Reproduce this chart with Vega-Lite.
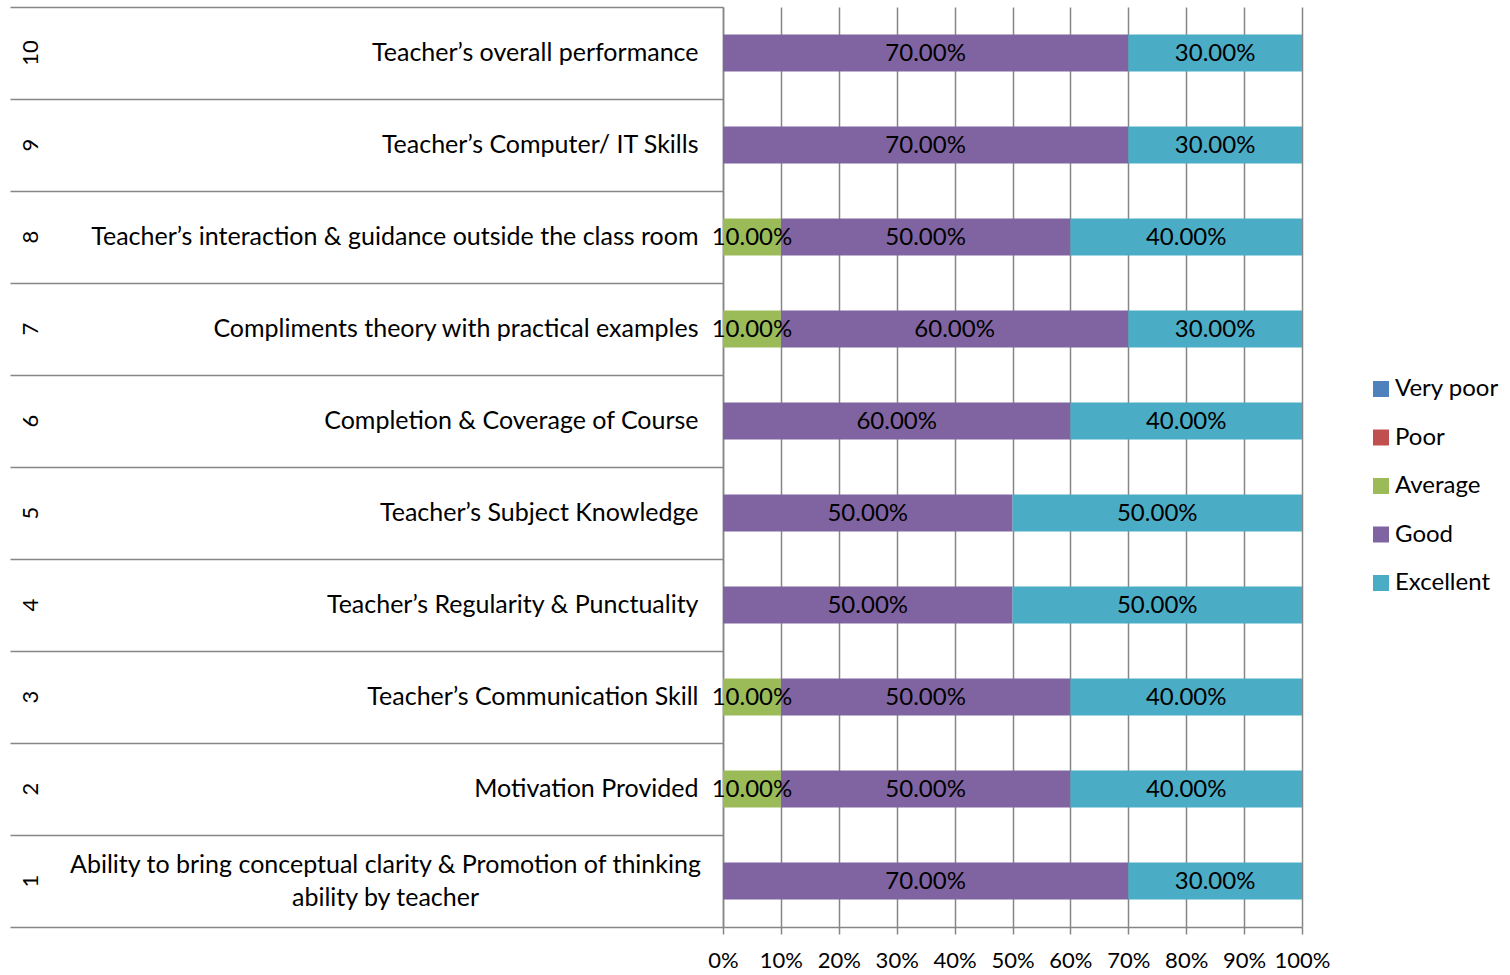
{
  "$schema": "https://vega.github.io/schema/vega-lite/v6.json",
  "width": 579,
  "height": 920,
  "autosize": {"type": "none"},
  "padding": {"left": 723, "top": 7, "right": 208, "bottom": 48},
  "background": "white",
  "config": {
    "font": "Lato",
    "view": {"stroke": null},
    "text": {"font": "Lato"}
  },
  "data": {
    "values": [
      {"num": 10, "row": "10|Teacher’s overall performance", "rating": "Good", "level": 4, "share": 0.7},
      {"num": 10, "row": "10|Teacher’s overall performance", "rating": "Excellent", "level": 5, "share": 0.3},
      {"num": 9, "row": "9|Teacher’s Computer/ IT Skills", "rating": "Good", "level": 4, "share": 0.7},
      {"num": 9, "row": "9|Teacher’s Computer/ IT Skills", "rating": "Excellent", "level": 5, "share": 0.3},
      {"num": 8, "row": "8|Teacher’s interaction & guidance outside the class room", "rating": "Average", "level": 3, "share": 0.1},
      {"num": 8, "row": "8|Teacher’s interaction & guidance outside the class room", "rating": "Good", "level": 4, "share": 0.5},
      {"num": 8, "row": "8|Teacher’s interaction & guidance outside the class room", "rating": "Excellent", "level": 5, "share": 0.4},
      {"num": 7, "row": "7|Compliments theory with practical examples", "rating": "Average", "level": 3, "share": 0.1},
      {"num": 7, "row": "7|Compliments theory with practical examples", "rating": "Good", "level": 4, "share": 0.6},
      {"num": 7, "row": "7|Compliments theory with practical examples", "rating": "Excellent", "level": 5, "share": 0.3},
      {"num": 6, "row": "6|Completion & Coverage of Course", "rating": "Good", "level": 4, "share": 0.6},
      {"num": 6, "row": "6|Completion & Coverage of Course", "rating": "Excellent", "level": 5, "share": 0.4},
      {"num": 5, "row": "5|Teacher’s Subject Knowledge", "rating": "Good", "level": 4, "share": 0.5},
      {"num": 5, "row": "5|Teacher’s Subject Knowledge", "rating": "Excellent", "level": 5, "share": 0.5},
      {"num": 4, "row": "4|Teacher’s Regularity & Punctuality", "rating": "Good", "level": 4, "share": 0.5},
      {"num": 4, "row": "4|Teacher’s Regularity & Punctuality", "rating": "Excellent", "level": 5, "share": 0.5},
      {"num": 3, "row": "3|Teacher’s Communication Skill", "rating": "Average", "level": 3, "share": 0.1},
      {"num": 3, "row": "3|Teacher’s Communication Skill", "rating": "Good", "level": 4, "share": 0.5},
      {"num": 3, "row": "3|Teacher’s Communication Skill", "rating": "Excellent", "level": 5, "share": 0.4},
      {"num": 2, "row": "2|Motivation Provided", "rating": "Average", "level": 3, "share": 0.1},
      {"num": 2, "row": "2|Motivation Provided", "rating": "Good", "level": 4, "share": 0.5},
      {"num": 2, "row": "2|Motivation Provided", "rating": "Excellent", "level": 5, "share": 0.4},
      {"num": 1, "row": "1|Ability to bring conceptual clarity & Promotion of thinking|ability by teacher", "rating": "Good", "level": 4, "share": 0.7},
      {"num": 1, "row": "1|Ability to bring conceptual clarity & Promotion of thinking|ability by teacher", "rating": "Excellent", "level": 5, "share": 0.3}
    ]
  },
  "transform": [
    {"stack": "share", "groupby": ["num"], "sort": [{"field": "level", "order": "ascending"}], "as": ["s0", "s1"]},
    {"calculate": "(datum.s0 + datum.s1) / 2", "as": "mid"}
  ],
  "encoding": {
    "y": {
      "field": "row", "type": "nominal",
      "sort": {"field": "num", "op": "max", "order": "descending"},
      "scale": {"paddingInner": 0, "paddingOuter": 0},
      "title": null
    }
  },
  "layer": [
    {
      "mark": {"type": "bar", "height": {"band": 0.4}},
      "encoding": {
        "y": {
          "field": "row", "type": "nominal",
          "sort": {"field": "num", "op": "max", "order": "descending"},
          "title": null,
          "axis": {
            "orient": "left",
            "domain": true, "domainColor": "#868686", "domainWidth": 1.5,
            "ticks": true, "tickBand": "extent", "tickSize": 713, "tickColor": "#868686", "tickWidth": 1.5,
            "labelExpr": "slice(split(datum.value, '|'), 1)",
            "labelFontSize": 25, "labelColor": "black", "labelLimit": 0, "labelLineHeight": 33,
            "labelAlign": {"condition": {"test": "length(split(datum.value, '|')) > 2", "value": "center"}, "value": "right"},
            "labelPadding": {"condition": {"test": "length(split(datum.value, '|')) > 2", "value": -375}, "value": -688},
            "labelOffset": {"condition": {"test": "length(split(datum.value, '|')) > 2", "value": -17}, "value": -1},
            "labelBaseline": "middle",
            "grid": false
          }
        },
        "x": {
          "field": "s0", "type": "quantitative", "title": null,
          "scale": {"domain": [0, 1]},
          "axis": {
            "format": ".0%", "values": [0, 0.1, 0.2, 0.3, 0.4, 0.5, 0.6, 0.7, 0.8, 0.9, 1],
            "domainColor": "#868686", "domainWidth": 1.5,
            "tickColor": "#868686", "tickSize": 7, "tickWidth": 1.5,
            "grid": true, "gridColor": "#868686", "gridWidth": 1.5,
            "labelFontSize": 22, "labelColor": "black", "labelPadding": 16, "labelFlush": false
          }
        },
        "x2": {"field": "s1"},
        "color": {
          "field": "rating", "type": "nominal",
          "scale": {
            "domain": ["Very poor", "Poor", "Average", "Good", "Excellent"],
            "range": ["#4F81BD", "#C0504D", "#9BBB59", "#8064A2", "#4BACC6"]
          },
          "legend": {
            "title": null, "orient": "none", "legendX": 646, "legendY": 370,
            "symbolType": "square", "symbolSize": 256, "symbolStrokeWidth": 0,
            "labelFontSize": 24, "labelColor": "black", "rowPadding": 24.5, "labelOffset": 2
          }
        }
      }
    },
    {
      "mark": {"type": "text", "fontSize": 24, "color": "black", "dy": 1},
      "encoding": {
        "y": {
          "field": "row", "type": "nominal",
          "sort": {"field": "num", "op": "max", "order": "descending"},
          "title": null,
          "axis": null
        },
        "x": {"field": "mid", "type": "quantitative", "title": null},
        "text": {"field": "share", "type": "quantitative", "format": ".2%"}
      }
    },
    {
      "mark": {"type": "text", "opacity": 0},
      "encoding": {
        "y": {
          "field": "row", "type": "nominal",
          "sort": {"field": "num", "op": "max", "order": "descending"},
          "title": null,
          "axis": {
            "orient": "left", "domain": false, "ticks": false, "grid": false,
            "labelExpr": "split(datum.value, '|')[0]",
            "labelAngle": 270, "labelAlign": "center", "labelBaseline": "middle",
            "labelPadding": 693, "labelFontSize": 22, "labelColor": "black"
          }
        },
        "x": {"field": "mid", "type": "quantitative", "title": null},
        "text": {"value": ""}
      }
    }
  ],
  "resolve": {"axis": {"y": "independent"}}
}
